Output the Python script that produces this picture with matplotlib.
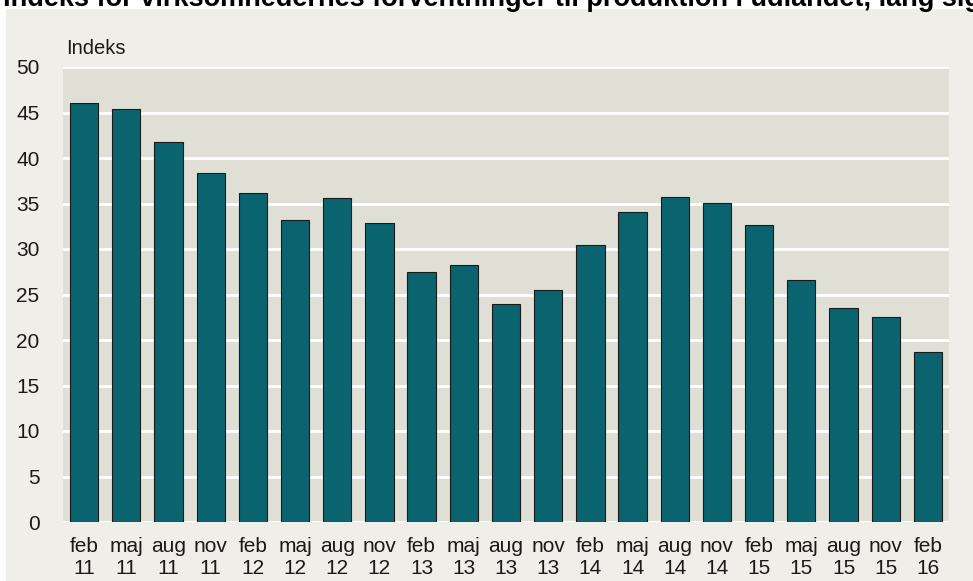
import matplotlib
matplotlib.use("Agg")
import matplotlib.pyplot as plt
from matplotlib.patches import Rectangle

months = ["feb", "maj", "aug", "nov"] * 5 + ["feb"]
years = ["11"] * 4 + ["12"] * 4 + ["13"] * 4 + ["14"] * 4 + ["15"] * 4 + ["16"]
values = [46.0, 45.4, 41.8, 38.4, 36.2, 33.2, 35.6, 32.9, 27.5, 28.2, 24.0,
          25.5, 30.4, 34.1, 35.7, 35.1, 32.6, 26.6, 23.5, 22.5, 18.7]
yticks = [0, 5, 10, 15, 20, 25, 30, 35, 40, 45, 50]
title = "Indeks for virksomhedernes forventninger til produktion i udlandet, lang sigt"

plt.rcParams['font.family'] = ['Liberation Sans', 'DejaVu Sans']

W, H = 973, 581
fig = plt.figure(figsize=(W / 100, H / 100), dpi=100)
fig.patch.set_facecolor("white")
bg = Rectangle((6 / W, 0), 1, 1 - 9 / H, transform=fig.transFigure,
               facecolor="#efeee8", edgecolor="none", zorder=-10)
fig.patches.append(bg)

ax = fig.add_axes([63 / W, 1 - 522 / H, (949 - 63) / W, (522 - 67) / H])
ax.set_zorder(1)
ax.set_facecolor("#e0dfd5")
x = list(range(len(values)))
ax.bar(x, values, width=0.67, color="#0a6470", edgecolor="#1a1a1a", linewidth=0.8, zorder=3)
ax.set_xlim(-0.5, len(values) - 0.5)
ax.set_ylim(0, 50)
ax.set_yticks(yticks)
ax.set_yticklabels([str(v) for v in yticks], fontsize=15, color="#1a1a1a")
ax.set_xticks(x)
ax.set_xticklabels([f"{m}\n{y}" for m, y in zip(months, years)], fontsize=15,
                   color="#1a1a1a", linespacing=1.2)
ax.tick_params(length=0)
ax.tick_params(axis="y", pad=17)
ax.tick_params(axis="x", pad=11)
ax.grid(axis="y", color="white", linewidth=2, zorder=1)
ax.set_axisbelow(True)
for s in ax.spines.values():
    s.set_visible(False)
ax.axhline(0, color="white", linewidth=2, zorder=2)

fig.text(66 / W, 1 - 49 / H, "Indeks", fontsize=14.5, color="#1a1a1a", va="center", ha="left", zorder=5)
fig.text(3 / W, 1 - 6 / H, title, fontsize=19.5, fontweight="bold", color="black",
         va="baseline", ha="left", zorder=5)

fig.savefig("out.png", dpi=100, facecolor=fig.get_facecolor())
